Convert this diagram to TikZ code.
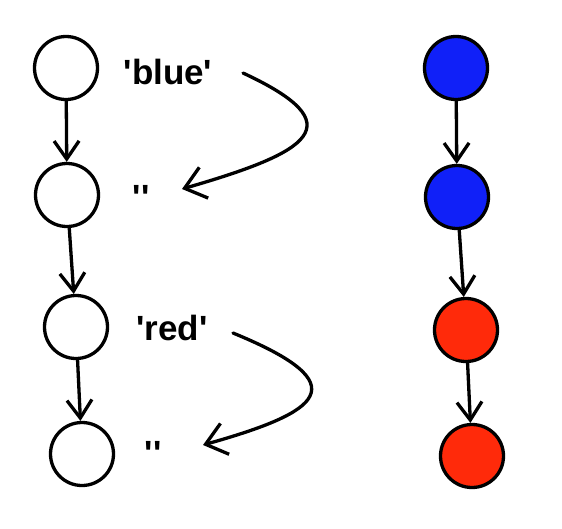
\documentclass[tikz,border=0pt]{standalone}
\usepackage{fontspec}
\setmainfont{Liberation Sans}
\usetikzlibrary{shapes,positioning,calc,arrows.meta}
\definecolor{ptrblue}{RGB}{16,32,248}
\definecolor{ptrred}{RGB}{255,42,10}

\begin{document}
\begin{tikzpicture}[x=1pt, y=-1pt, line width=3.3pt, line cap=round, line join=round,
    cell/.style={circle, draw, minimum size=63pt, inner sep=0pt},
    lbl/.style={font=\bfseries\fontsize{35}{40}\selectfont, inner sep=0pt},
    link/.style={-{Straight Barb[length=18pt,width=25pt,line width=3.3pt]}},
    copyarrow/.style={-{Straight Barb[length=20pt,width=32pt,line width=3.3pt]}}
    ]
    \useasboundingbox (0,0) rectangle (562,528);

    % left list
    \node[cell] (l1) at (66,68) {};
    \node[cell] (l2) at (67,195) {};
    \node[cell] (l3) at (76,327) {};
    \node[cell] (l4) at (82,454) {};

    \draw[link] (l1) -- (l2);
    \draw[link] (l2) -- (l3);
    \draw[link] (l3) -- (l4);

    % values
    \node[lbl] (vblue) at (168,72) {\textquotesingle blue\textquotesingle};
    \node[lbl] (vq1) at (141,197) {\textquotesingle\textquotesingle};
    \node[lbl] (vred) at (172,328) {\textquotesingle red\textquotesingle};
    \node[lbl] (vq2) at (153,453) {\textquotesingle\textquotesingle};

    \coordinate (s1) at (243,73);
    \coordinate (t1) at (182,189);
    \coordinate (s2) at (233,333);
    \coordinate (t2) at (203,445);

    \draw[copyarrow] (s1) .. controls (355,125) and (310,152) .. (t1);
    \draw[copyarrow] (s2) .. controls (360,385) and (320,412) .. (t2);

    % right list
    \node[cell, fill=ptrblue] (r1) at (456,68) {};
    \node[cell, fill=ptrblue] (r2) at (457,197) {};
    \node[cell, fill=ptrred] (r3) at (466,330) {};
    \node[cell, fill=ptrred] (r4) at (472,456) {};

    \draw[link] (r1) -- (r2);
    \draw[link] (r2) -- (r3);
    \draw[link] (r3) -- (r4);
\end{tikzpicture}
\end{document}
